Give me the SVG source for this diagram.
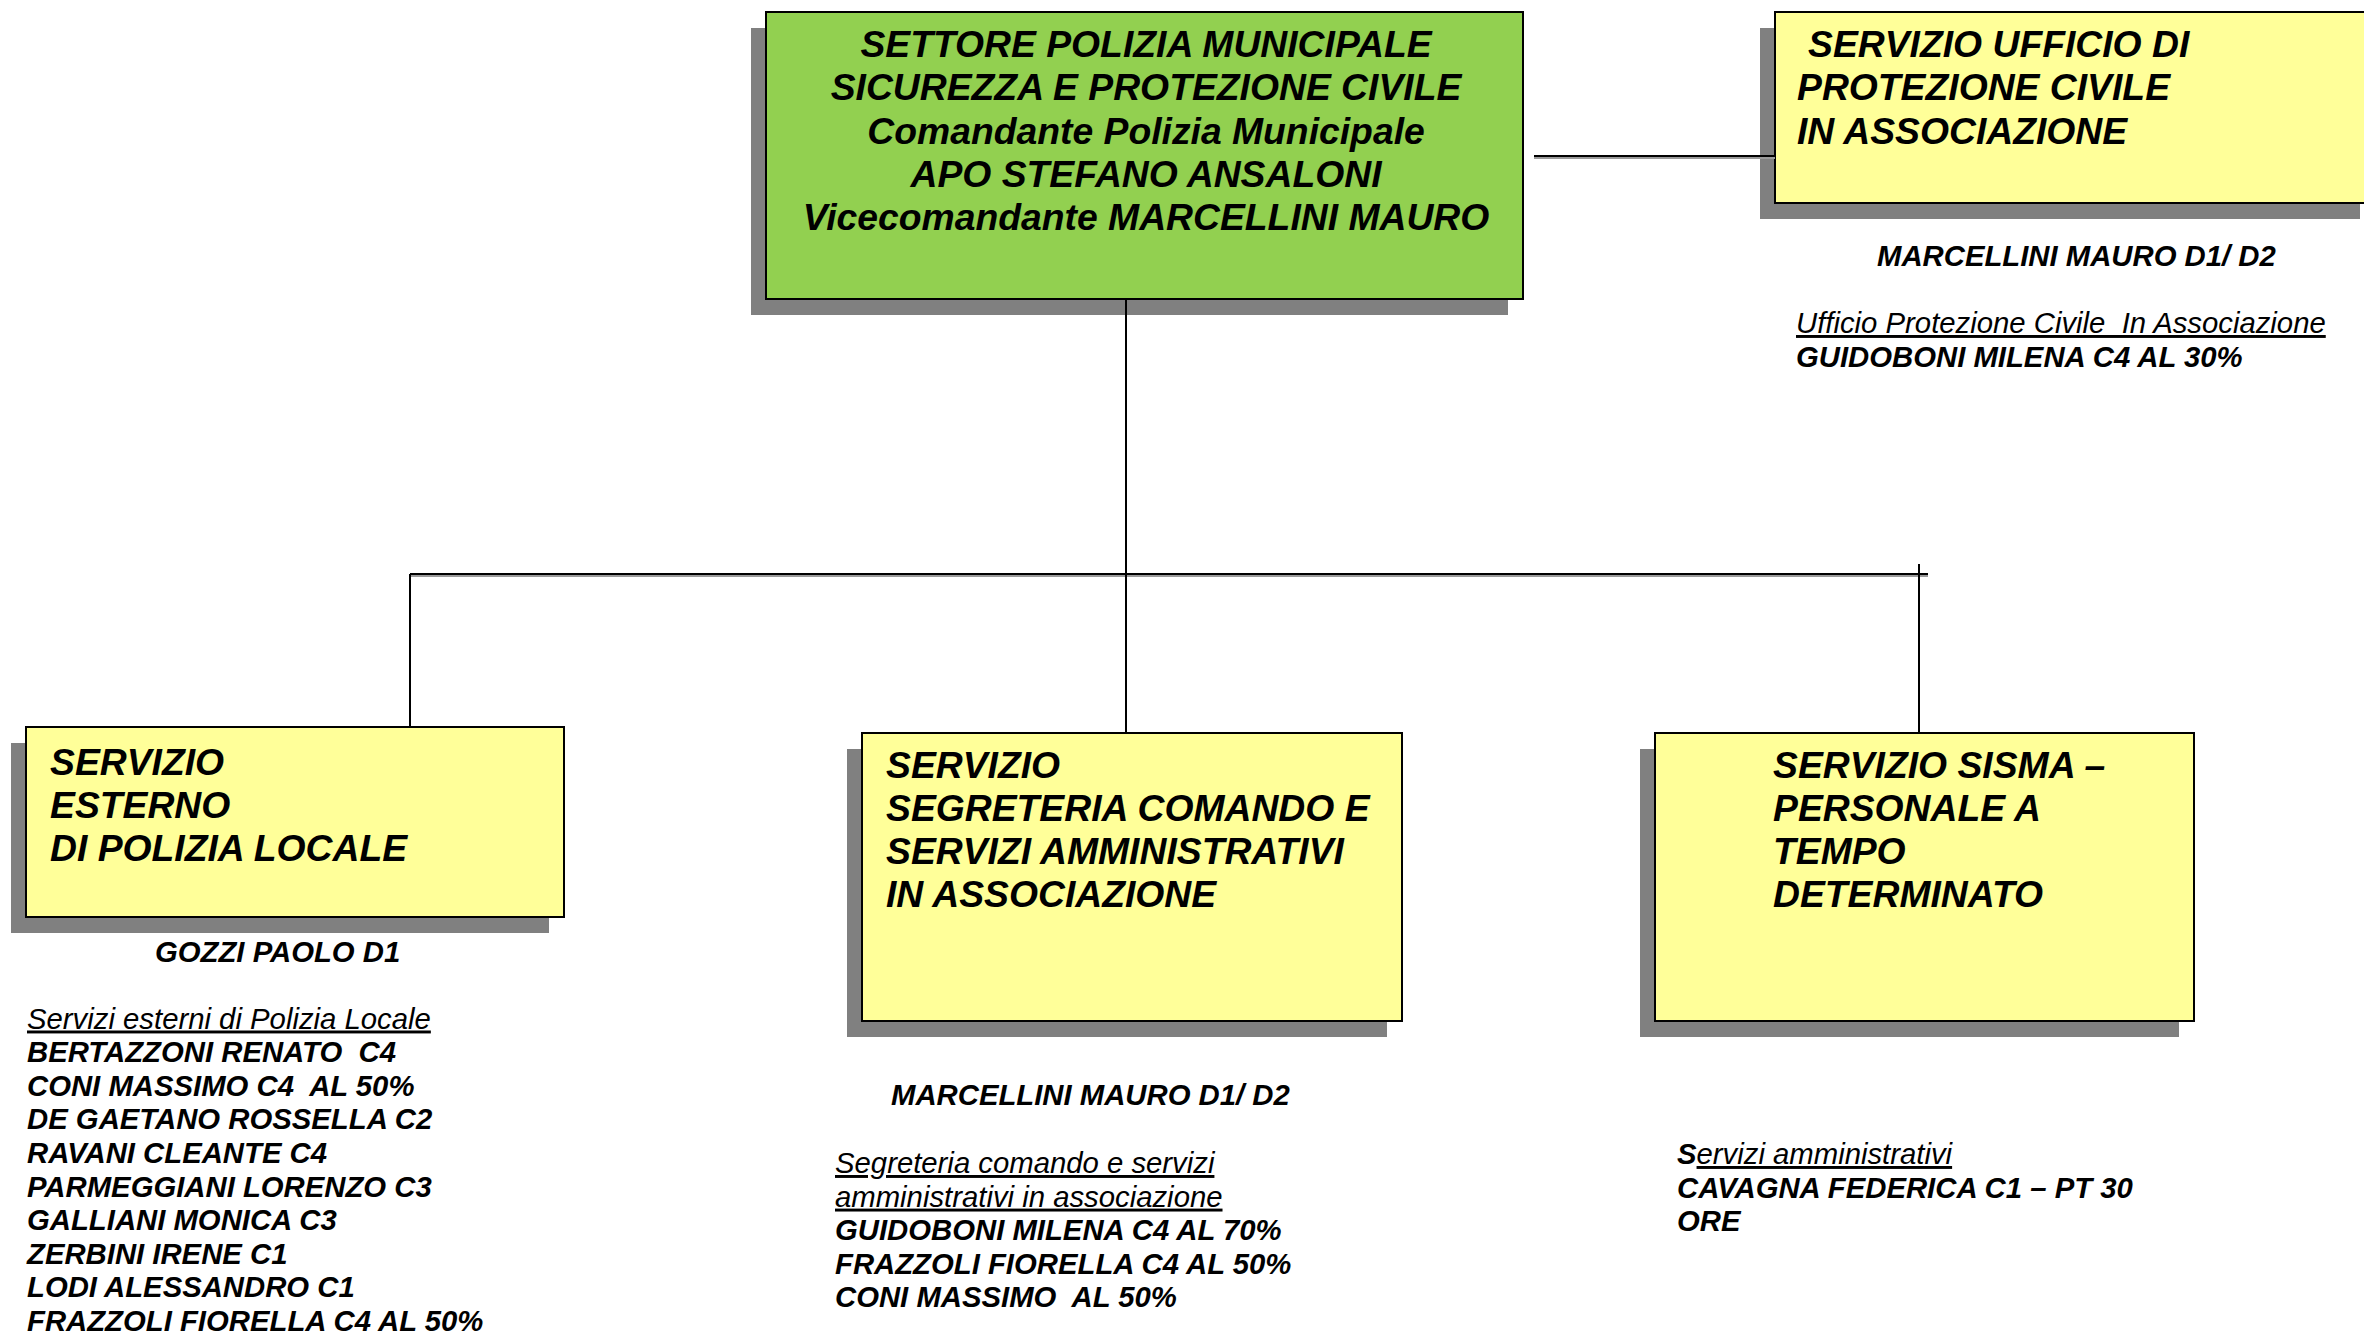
<svg xmlns="http://www.w3.org/2000/svg" width="2364" height="1335" viewBox="0 0 2364 1335">
<style>
  text { font-family: "Liberation Sans", Arial, sans-serif; fill: #000; }
  .t { font-size: 37.3px; font-weight: bold; font-style: italic; }
  .l { font-size: 29.3px; font-weight: bold; font-style: italic; }
  .u { font-size: 29.3px; font-weight: normal; font-style: italic; text-decoration: underline; }
  .shadow { fill: #808080; }
  .green { fill: #92D050; stroke: #000; stroke-width: 2; }
  .yellow { fill: #FFFF99; stroke: #000; stroke-width: 2; }
  .conn { stroke: #000; stroke-width: 2; fill: none; }
  .connsh { stroke: #9a9a9a; stroke-width: 2; fill: none; }
</style>
<rect width="2364" height="1335" fill="#fff"/>

<g id="settore">
  <rect class="shadow" x="751" y="28" width="757" height="287"/>
  <rect class="green" x="766" y="12" width="757" height="287"/>
  <text class="t" x="1146" y="57" text-anchor="middle">SETTORE POLIZIA MUNICIPALE</text>
  <text class="t" x="1146" y="100.3" text-anchor="middle">SICUREZZA E PROTEZIONE CIVILE</text>
  <text class="t" x="1146" y="143.6" text-anchor="middle">Comandante Polizia Municipale</text>
  <text class="t" x="1146" y="186.9" text-anchor="middle">APO STEFANO ANSALONI</text>
  <text class="t" x="1146" y="230.2" text-anchor="middle">Vicecomandante MARCELLINI MAURO</text>
</g>

<g id="protezione-civile">
  <rect class="shadow" x="1760" y="28" width="600" height="191"/>
  <rect class="yellow" x="1775" y="12" width="600" height="191"/>
  <text class="t" x="1808" y="57">SERVIZIO UFFICIO DI</text>
  <text class="t" x="1797" y="100.3">PROTEZIONE CIVILE</text>
  <text class="t" x="1797" y="143.6">IN ASSOCIAZIONE</text>
  <text class="l" x="1877" y="266">MARCELLINI MAURO D1/ D2</text>
  <text class="u" x="1796" y="333" xml:space="preserve">Ufficio Protezione Civile  In Associazione</text>
  <text class="l" x="1796" y="366.6">GUIDOBONI MILENA C4 AL 30%</text>
</g>

<g id="servizio-esterno">
  <rect class="shadow" x="11" y="743" width="538" height="190"/>
  <rect class="yellow" x="26" y="727" width="538" height="190"/>
  <text class="t" x="50" y="774.5">SERVIZIO</text>
  <text class="t" x="50" y="817.5">ESTERNO</text>
  <text class="t" x="50" y="860.5">DI POLIZIA LOCALE</text>
  <text class="l" x="155" y="961.5">GOZZI PAOLO D1</text>
  <text class="u" x="27" y="1028.5">Servizi esterni di Polizia Locale</text>
  <text class="l" x="27" y="1062.1" xml:space="preserve">BERTAZZONI RENATO  C4</text>
  <text class="l" x="27" y="1095.7" xml:space="preserve">CONI MASSIMO C4  AL 50%</text>
  <text class="l" x="27" y="1129.3">DE GAETANO ROSSELLA C2</text>
  <text class="l" x="27" y="1162.9">RAVANI CLEANTE C4</text>
  <text class="l" x="27" y="1196.5">PARMEGGIANI LORENZO C3</text>
  <text class="l" x="27" y="1230.1">GALLIANI MONICA C3</text>
  <text class="l" x="27" y="1263.7">ZERBINI IRENE C1</text>
  <text class="l" x="27" y="1297.3">LODI ALESSANDRO C1</text>
  <text class="l" x="27" y="1330.9">FRAZZOLI FIORELLA C4 AL 50%</text>
</g>

<g id="segreteria">
  <rect class="shadow" x="847" y="749" width="540" height="288"/>
  <rect class="yellow" x="862" y="733" width="540" height="288"/>
  <text class="t" x="886" y="777.5">SERVIZIO</text>
  <text class="t" x="886" y="820.8">SEGRETERIA COMANDO E</text>
  <text class="t" x="886" y="864.1">SERVIZI AMMINISTRATIVI</text>
  <text class="t" x="886" y="907.4">IN ASSOCIAZIONE</text>
  <text class="l" x="891" y="1105">MARCELLINI MAURO D1/ D2</text>
  <text class="u" x="835" y="1173">Segreteria comando e servizi</text>
  <text class="u" x="835" y="1206.6">amministrativi in associazione</text>
  <text class="l" x="835" y="1240.2">GUIDOBONI MILENA C4 AL 70%</text>
  <text class="l" x="835" y="1273.8">FRAZZOLI FIORELLA C4 AL 50%</text>
  <text class="l" x="835" y="1307.4" xml:space="preserve">CONI MASSIMO  AL 50%</text>
</g>

<g id="sisma">
  <rect class="shadow" x="1640" y="749" width="539" height="288"/>
  <rect class="yellow" x="1655" y="733" width="539" height="288"/>
  <text class="t" x="1773" y="777.5">SERVIZIO SISMA –</text>
  <text class="t" x="1773" y="820.8">PERSONALE A</text>
  <text class="t" x="1773" y="864.1">TEMPO</text>
  <text class="t" x="1773" y="907.4">DETERMINATO</text>
  <text x="1677" y="1164" style="font-size:29.3px;font-style:italic"><tspan font-weight="bold">S</tspan><tspan text-decoration="underline">ervizi amministrativi</tspan></text>
  <text class="l" x="1677" y="1197.6">CAVAGNA FEDERICA C1 – PT 30</text>
  <text class="l" x="1677" y="1231.2">ORE</text>
</g>

<g id="connectors">
  <line class="connsh" x1="410" y1="576" x2="1928" y2="576"/>
  <line class="connsh" x1="1534" y1="158" x2="1775" y2="158"/>
  <line class="conn" x1="1534" y1="156" x2="1775" y2="156"/>
  <line class="conn" x1="1126" y1="299" x2="1126" y2="733"/>
  <line class="conn" x1="410" y1="574" x2="1928" y2="574"/>
  <line class="conn" x1="410" y1="574" x2="410" y2="727"/>
  <line class="conn" x1="1919" y1="564" x2="1919" y2="733"/>
</g>
</svg>
